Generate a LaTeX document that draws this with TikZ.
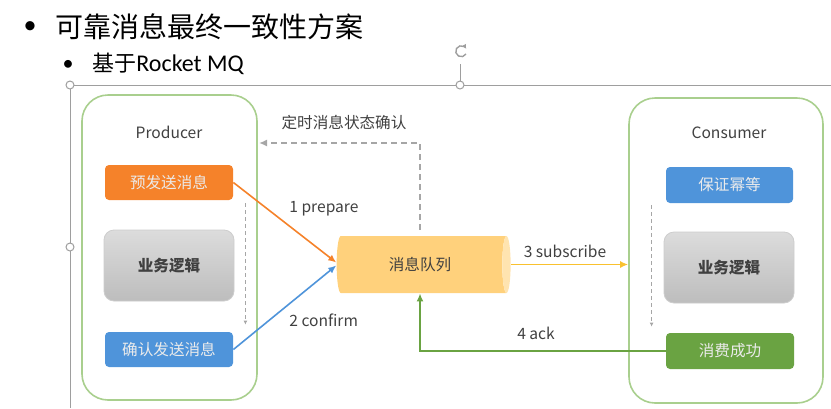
\documentclass[tikz,border=0pt]{standalone}
\usepackage{fontspec}
\setmainfont{Noto Sans CJK SC}
\newfontfamily\carlito{Carlito}
\usepackage{tikz}
\usetikzlibrary{arrows, arrows.meta, calc, shapes.geometric, positioning}

\definecolor{frame}{HTML}{A9CF8E}
\definecolor{txt}{HTML}{404040}
\definecolor{dash}{HTML}{A6A6A6}
\definecolor{sel}{HTML}{9E9E9E}
\definecolor{preC}{HTML}{F5822A}
\definecolor{confC}{HTML}{4F94DA}
\definecolor{okC}{HTML}{6AA342}
\definecolor{bizTop}{HTML}{DCDCDC}
\definecolor{bizBot}{HTML}{BDBDBD}
\definecolor{bizLine}{HTML}{CDCDCD}
\definecolor{mqBody}{HTML}{FFD17C}
\definecolor{mqEnd}{HTML}{FFE4B0}
\definecolor{subC}{HTML}{F9C12E}

\tikzset{
    lane/.style={draw=frame, line width=0.8pt, rounded corners=13pt, minimum height=152.5pt},
    box/.style={rounded corners=2pt, minimum width=64pt, minimum height=17.5pt, text=white!92!black, font=\fontsize{7.8}{9}\selectfont},
    biz/.style={rounded corners=5pt, minimum width=65pt, minimum height=35.5pt, top color=bizTop, bottom color=bizBot, draw=bizLine, text=txt, font=\fontsize{7.8}{9}\selectfont\bfseries},
    lbl/.style={text=txt, inner sep=0pt, font=\fontsize{7.8}{9}\selectfont},
    flow/.style={line width=0.8pt, -{Latex[length=4pt, width=3.5pt]}},
    hint/.style={draw=dash, line width=0.6pt, dash pattern=on 2pt off 1.5pt, -{Latex[length=2pt, width=2pt]}},
    handle/.style={draw=sel, fill=white, line width=0.5pt},
}

\begin{document}
\begin{tikzpicture}[x=0.5pt, y=-0.5pt]
    \useasboundingbox (0,0) rectangle (831,408);

    % slide text
    \node[anchor=center, font=\carlito\fontsize{13}{14}\selectfont] (b1) at (30,28) {•};
    \node[anchor=west, inner sep=0pt, font=\fontsize{14}{16}\selectfont] (t1) at (55,27) {可靠消息最终一致性方案};
    \node[anchor=center, font=\carlito\fontsize{11}{12}\selectfont] (b2) at (68,65) {•};
    \node[anchor=west, inner sep=0pt, font=\fontsize{11}{13}\selectfont] (t2) at (92,64) {基于{\carlito\fontsize{12}{13}\selectfont Rocket MQ}};

    % selection handles
    \draw[sel, line width=0.5pt] (74,85) -- (456,85) (464,85) -- (831,85) (70,89) -- (70,243) (70,251) -- (70,408) (460,64) -- (460,81);
    \draw[sel, line width=0.7pt, -{Latex[length=2pt, width=2.5pt]}] (466,54) arc[start angle=30, end angle=330, radius=5.5];
    \draw[handle] (70,85) circle (4) (460,85) circle (4) (70,247) circle (4);

    % producer side
    \node[lane, minimum width=87.5pt] (prod) at (169.5,247.5) {};
    \node[lbl] (ptitle) at (169,132) {Producer};
    \node[box, fill=preC] (pre) at (169,182.5) {预发送消息};
    \node[biz] (pbiz) at (169,265.5) {业务逻辑};
    \node[box, fill=confC] (conf) at (169,349.5) {确认发送消息};

    % consumer side
    \node[lane, minimum width=97pt] (cons) at (726,250.5) {};
    \node[lbl] (ctitle) at (729,133) {Consumer};
    \node[box, fill=confC, minimum width=63.5pt, minimum height=18pt] (idem) at (729.5,185) {保证幂等};
    \node[biz] (cbiz) at (729,267.5) {业务逻辑};
    \node[box, fill=okC, minimum height=18pt] (ok) at (730,351) {消费成功};

    % queue
    \node[cylinder, shape border rotate=0, aspect=0.3, minimum width=28.5pt, minimum height=87pt,
          cylinder uses custom fill, cylinder body fill=mqBody, cylinder end fill=mqEnd,
          text=txt, font=\fontsize{7.8}{9}\selectfont] (mq) at (420,264.5) {消息队列};

    \coordinate (chk) at (259,143);

    % labels
    \node[lbl] (lchk) at (344,123) {定时消息状态确认};
    \node[lbl, anchor=west] (l1) at (289,209) {1 prepare};
    \node[lbl, anchor=west] (l2) at (289,320) {2 confirm};
    \node[lbl] (l3) at (565,251) {3 subscribe};
    \node[lbl] (l4) at (536,333) {4 ack};

    % connectors
    \draw[flow, preC] (pre.east) -- ([yshift=1pt]mq.west);
    \draw[flow, confC] (conf.east) -- ([yshift=-0.5pt]mq.west);
    \draw[flow, subC] (mq.east) -- (mq.east -| cons.west);
    \draw[flow, okC] (ok.west) -| (mq.south);
    \draw[draw=dash, line width=0.9pt, dash pattern=on 3pt off 2pt, -{Latex[length=4pt, width=3.5pt]}] ([yshift=3pt]mq.north) |- (chk);
    \draw[hint] ($(pre.south east)+(12,3)$) -- ($(conf.north east)+(12,-7)$);
    \draw[hint] ($(idem.south west)+(-14,2)$) -- ($(ok.north west)+(-14,-6)$);
\end{tikzpicture}
\end{document}
